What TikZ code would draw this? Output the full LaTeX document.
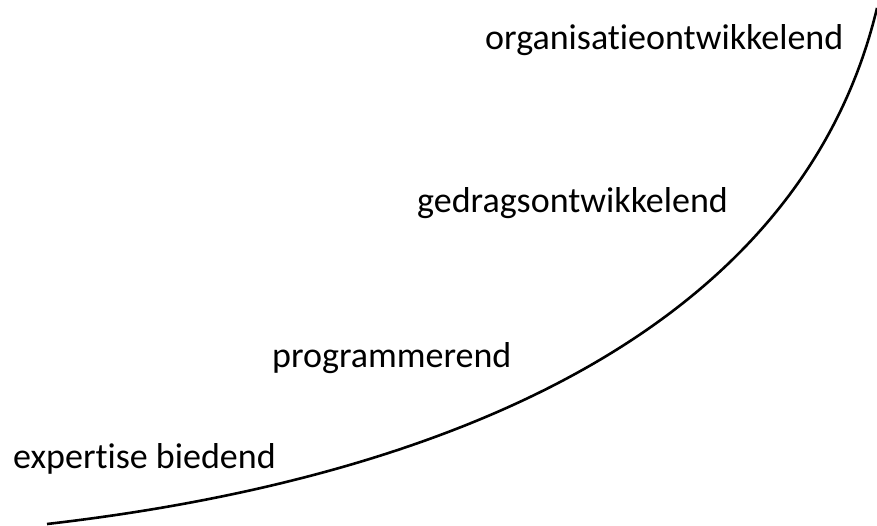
\documentclass[tikz,border=0pt]{standalone}
\usepackage{fontspec}
\setmainfont{Carlito}[Ligatures={NoCommon,NoContextual,NoRare}]
\begin{document}
\begin{tikzpicture}[x=1pt, y=-1pt, every node/.style={inner sep=0pt, anchor=base west, font=\fontsize{36}{40}\selectfont}]
	\useasboundingbox (0, 0) rectangle (877, 526);
	\node(A) at (485, 50){organisat\kern0pt ieontwikkelend};
	\node(B) at (417, 213){gedragsontwikkelend};
	\node(C) at (272, 367){programmerend};
	\node(D) at (13, 468){expert\kern0pt ise biedend};

	\coordinate(S) at (47, 524);
	\coordinate(E) at (877, 8);

	\draw [line width=2.6pt] (S) .. controls (447, 478) and (800, 330) .. (E);
\end{tikzpicture}
\end{document}
